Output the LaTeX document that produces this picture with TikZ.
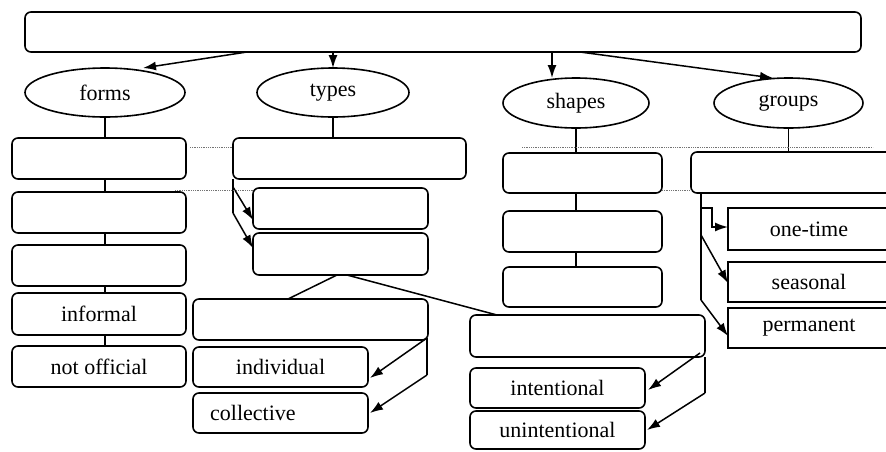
\documentclass[tikz,border=0pt]{standalone}
\usepackage{fontspec}
\setmainfont{Liberation Serif}
\usetikzlibrary{shapes.geometric,arrows.meta,calc}
\begin{document}
\begin{tikzpicture}[x=1pt,y=-1pt,
 rbox/.style={draw,rounded corners=6pt,line width=1.6pt,inner sep=0pt,outer sep=0pt,font=\fontsize{22}{26}\selectfont},
 sbox/.style={draw,line width=1.6pt,inner sep=0pt,outer sep=0pt,font=\fontsize{22}{26}\selectfont},
 oval/.style={draw,ellipse,line width=1.6pt,inner sep=0pt,outer sep=0pt,font=\fontsize{22}{26}\selectfont},
 lbl/.style={inner sep=0pt,font=\fontsize{22}{26}\selectfont},
 conn/.style={line width=1.5pt},
 arr/.style={conn,-{Latex[length=13pt,width=9pt]}},
 gridl/.style={densely dotted,line width=0.8pt,black!55}]
\useasboundingbox (0,0) rectangle (886,451);

% top box
\node[rbox,minimum width=836pt,minimum height=40pt] (top) at (443,32) {};

% ellipses
\node[oval,minimum width=160pt,minimum height=49pt] (forms) at (105,92.5) {forms};
\node[oval,minimum width=152pt,minimum height=49pt] (types) at (333,92.5) {types};
\node[oval,minimum width=146pt,minimum height=50pt] (shapes) at (576,103) {shapes};
\node[oval,minimum width=149pt,minimum height=50pt] (groups) at (788.5,103) {groups};

% forms column
\node[rbox,minimum width=174pt,minimum height=41pt] (F1) at (99,158.5) {};
\node[rbox,minimum width=174pt,minimum height=41pt] (F2) at (99,212.5) {};
\node[rbox,minimum width=174pt,minimum height=41pt] (F3) at (99,265.5) {};
\node[rbox,minimum width=174pt,minimum height=42pt] (F4) at (99,314) {informal};
\node[rbox,minimum width=174pt,minimum height=41pt] (F5) at (99,366.5) {not official};

% types column
\node[rbox,minimum width=233pt,minimum height=41pt] (T1) at (349.5,158.5) {};
\node[rbox,minimum width=175pt,minimum height=41pt] (T2) at (340.5,208.5) {};
\node[rbox,minimum width=175pt,minimum height=42pt] (T3) at (340.5,254) {};
\node[rbox,minimum width=235pt,minimum height=41pt] (T4) at (310.5,319.5) {};
\node[rbox,minimum width=175pt,minimum height=40pt] (I1) at (280.5,367) {individual};
\node[rbox,minimum width=175pt,minimum height=40pt] (C2) at (280.5,413) {};
\node[lbl,anchor=west] (colltxt) at ($(C2.west)+(17,0)$) {collective};

% shapes column
\node[rbox,minimum width=159pt,minimum height=40pt] (S1) at (582.5,173) {};
\node[rbox,minimum width=159pt,minimum height=41pt] (S2) at (582.5,231.5) {};
\node[rbox,minimum width=159pt,minimum height=40pt] (S3) at (582.5,287) {};
\node[rbox,minimum width=235pt,minimum height=42pt] (S4) at (587.5,336) {};
\node[rbox,minimum width=175pt,minimum height=40pt] (N1) at (557.5,388) {intentional};
\node[rbox,minimum width=175pt,minimum height=38pt] (N2) at (557.5,430) {unintentional};

% groups column
\node[rbox,minimum width=204pt,minimum height=41pt] (G1) at (793,172.5) {};
\node[sbox,minimum width=162pt,minimum height=42pt] (O1) at (809,229) {one-time};
\node[sbox,minimum width=162pt,minimum height=40pt] (O2) at (809,282) {seasonal};
\node[sbox,minimum width=162pt,minimum height=40pt] (O3) at (809,328) {permanent};

% arrows from the top box
\draw[arr] ($(top.south west)+(222,0)$) -- ($(forms.north)+(38,0)$);
\draw[arr] (top.south -| types.north) -- (types.north);
\draw[arr] ($(top.south)+(109,0)$) -- ($(shapes.north)+(-24,0)$);
\draw[arr] ($(top.south)+(137,0)$) -- ($(groups.north)+(-15.5,0)$);

% forms chain
\draw[conn] (forms.south) -- (forms.south |- F1.north);
\draw[conn] (F1.south -| forms.south) -- (F2.north -| forms.south);
\draw[conn] (F2.south -| forms.south) -- (F3.north -| forms.south);
\draw[conn] (F3.south -| forms.south) -- (F4.north -| forms.south);
\draw[conn] (F4.south -| forms.south) -- (F5.north -| forms.south);

% types connectors
\draw[conn] (types.south) -- (types.south |- T1.north);
\draw[conn] (T1.south west) -- ($(T1.south west)+(0,34)$);
\draw[arr] ($(T1.south west)+(0,8)$) -- ($(T2.south west)+(0,-9)$);
\draw[arr] ($(T1.south west)+(0,34)$) -- ($(T3.west)+(0,-6)$);
\draw[conn] ($(T3.south)+(-3.5,0)$) -- ($(T4.north)+(-22.5,0)$);
\draw[conn] ($(T3.south)+(6.5,0)$) -- ($(S4.north west)+(27,0)$);
\draw[conn] ($(T4.south east)+(-1,-2)$) -- ($(T4.south east)+(-1,35)$);
\draw[arr] ($(T4.south east)+(-1,-2)$) -- ($(I1.south east)+(2,-9)$);
\draw[arr] ($(T4.south east)+(-1,35)$) -- ($(C2.east)+(2,0)$);

% shapes connectors
\draw[conn] (shapes.south) -- (shapes.south |- S1.north);
\draw[conn] (S1.south -| shapes.south) -- (S2.north -| shapes.south);
\draw[conn] (S2.south -| shapes.south) -- (S3.north -| shapes.south);
\draw[conn] (S4.south east) -- ($(S4.south east)+(0,36)$);
\draw[arr] ($(S4.south east)+(-5,-4)$) -- ($(N1.east)+(3,2)$);
\draw[arr] ($(S4.south east)+(0,36)$) -- ($(N2.east)+(2,0)$);

% groups connectors
\draw[conn] (groups.south) -- (groups.south |- G1.north);
\draw[conn] ($(G1.south west)+(10,0)$) -- ($(G1.south west)+(10,107)$);
\draw[arr] ($(G1.south west)+(10,15)$) -| ($(O1.west)+(-16,-2)$) -- ($(O1.west)+(0,-2)$);
\draw[arr] ($(G1.south west)+(10,42)$) -- ($(O2.west)+(0,1)$);
\draw[arr] ($(G1.south west)+(10,107)$) -- ($(O3.west)+(0,8)$);

% faint dotted guide lines
\draw[gridl] ($(F1.north east)+(4,9)$) -- ($(T1.north west)+(-1,9)$);
\draw[gridl] ($(F2.north east)+(-11,-2)$) -- ($(T2.north west)+(0,2)$);
\draw[gridl] ($(S1.north west)+(19,-6)$) -- ($(G1.north east)+(-22,-5)$);
\draw[gridl] ($(S1.south east)+(0,-3)$) -- ($(G1.south west)+(0,-3)$);
\end{tikzpicture}
\end{document}
